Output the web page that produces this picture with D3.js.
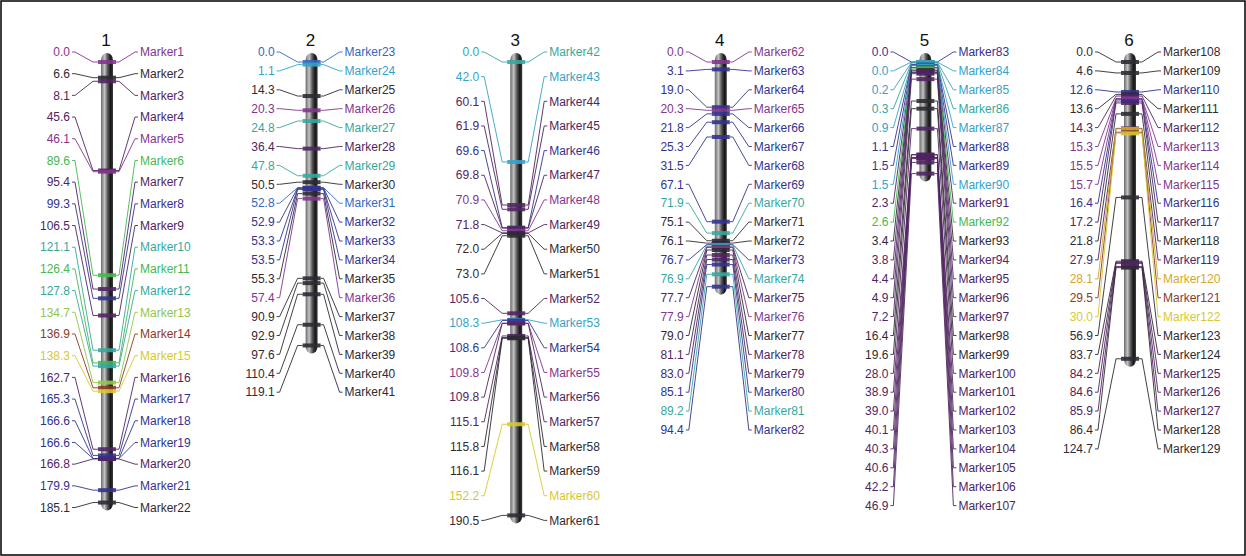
<!DOCTYPE html>
<html>
<head>
<meta charset="utf-8">
<script src="https://cdn.jsdelivr.net/npm/d3@7"></script>
<style>
  body { margin: 0; background: #fff; }
  text { font-family: "Liberation Sans", Arial, sans-serif; }
</style>
</head>
<body>
<div id="chart"></div>
<script>
// ---------- data ----------
const chromNames = ["1", "2", "3", "4", "5", "6"];

// positions (cM) per linkage group
const chr1Pos = [0.0, 6.6, 8.1, 45.6, 46.1, 89.6, 95.4, 99.3, 106.5, 121.1, 126.4, 127.8, 134.7, 136.9, 138.3, 162.7, 165.3, 166.6, 166.6, 166.8, 179.9, 185.1];
const chr2Pos = [0.0, 1.1, 14.3, 20.3, 24.8, 36.4, 47.8, 50.5, 52.8, 52.9, 53.3, 53.5, 55.3, 57.4, 90.9, 92.9, 97.6, 110.4, 119.1];
const chr3Pos = [0.0, 42.0, 60.1, 61.9, 69.6, 69.8, 70.9, 71.8, 72.0, 73.0, 105.6, 108.3, 108.6, 109.8, 109.8, 115.1, 115.8, 116.1, 152.2, 190.5];
const chr4Pos = [0.0, 3.1, 19.0, 20.3, 21.8, 25.3, 31.5, 67.1, 71.9, 75.1, 76.1, 76.7, 76.9, 77.7, 77.9, 79.0, 81.1, 83.0, 85.1, 89.2, 94.4];
const chr5Pos = [0.0, 0.0, 0.2, 0.3, 0.9, 1.1, 1.5, 1.5, 2.3, 2.6, 3.4, 3.8, 4.4, 4.9, 7.2, 16.4, 19.6, 28.0, 38.9, 39.0, 40.1, 40.3, 40.6, 42.2, 46.9];
const chr6Pos = [0.0, 4.6, 12.6, 13.6, 14.3, 15.3, 15.5, 15.7, 16.4, 17.2, 21.8, 27.9, 28.1, 29.5, 30.0, 56.9, 83.7, 84.2, 84.6, 85.9, 86.4, 124.7];

// colour key of each marker
const chr1Col = ["p","k","d","d","p","g","d","n","d","t","g","t","l","r","y","d","n","n","n","d","n","k"];
const chr2Col = ["b","c","k","p","t","d","t","k","b","n","n","n","k","p","k","k","k","k","k"];
const chr3Col = ["t","c","d","d","n","d","p","d","k","k","d","c","n","p","d","d","k","k","y","k"];
const chr4Col = ["p","n","n","p","n","n","n","n","t","k","k","n","t","d","p","k","d","d","n","t","n"];
const chr5Col = ["n","c","c","t","c","n","n","c","d","g","k","d","d","d","d","k","k","d","d","d","d","d","d","d","d"];
const chr6Col = ["k","k","n","k","d","p","p","p","n","d","k","d","o","r","y","k","k","d","d","d","k","k"];

const palette = {
  k: "#2f2a33", d: "#4f2560", p: "#82358e", n: "#33338e", b: "#3566c0",
  c: "#35a2c8", t: "#35a89e", g: "#45b850", l: "#92c64a", y: "#d8c830",
  o: "#d6a62a", r: "#8a3a2a"
};

const allPos = [chr1Pos, chr2Pos, chr3Pos, chr4Pos, chr5Pos, chr6Pos];
const allCol = [chr1Col, chr2Col, chr3Col, chr4Col, chr5Col, chr6Col];

// ---------- setup ----------
const W = 1246, H = 556;
const svg = d3.select("#chart").append("svg")
  .attr("width", W).attr("height", H);

svg.append("rect")
  .attr("x", 1).attr("y", 1).attr("width", W - 2).attr("height", H - 2)
  .attr("fill", "#fff").attr("stroke", "#000").attr("stroke-width", 1.5);

const defs = svg.append("defs");
const grad = defs.append("linearGradient").attr("id", "cyl")
  .attr("x1", "0%").attr("x2", "100%").attr("y1", "0%").attr("y2", "0%");
[[0, "#6a6a6a"], [0.3, "#c4c4c4"], [0.55, "#5a5a5a"], [0.8, "#161616"], [1, "#3c3c3c"]]
  .forEach(s => grad.append("stop").attr("offset", s[0]).attr("stop-color", s[1]));

const yScale = d3.scaleLinear().domain([0, 200]).range([62, 62 + 476]);
const xScale = d3.scalePoint().domain(chromNames).range([107, 1130]);

const halfW = 6;
const labelTop = 52, minStep = 18.9;

let counter = 1;
const groups = chromNames.map((name, gi) => {
  const pos = allPos[gi];
  const markers = pos.map((p, i) => ({
    name: "Marker" + (counter + i),
    pos: p,
    color: palette[allCol[gi][i]]
  }));
  counter += pos.length;
  return { name, markers, max: d3.max(pos) };
});

// ---------- draw ----------
groups.forEach(g => {
  const cx = xScale(g.name);
  const n = g.markers.length;
  const step = Math.max(minStep, (yScale(g.max) + 5 - labelTop) / (n - 1));
  g.markers.forEach((m, i) => { m.ly = labelTop + i * step; m.my = yScale(m.pos); });

  const gg = svg.append("g");

  gg.append("text")
    .attr("x", cx - 1).attr("y", 46)
    .attr("text-anchor", "middle")
    .attr("font-size", 17)
    .attr("fill", "#111")
    .text(g.name);

  // chromosome body
  gg.append("rect")
    .attr("x", cx - halfW)
    .attr("y", yScale(0) - 9)
    .attr("width", halfW * 2)
    .attr("height", yScale(g.max) - yScale(0) + 17)
    .attr("rx", halfW).attr("ry", 7)
    .attr("fill", "url(#cyl)");

  // bands
  gg.selectAll(".band").data(g.markers).enter()
    .append("rect")
    .attr("class", "band")
    .attr("x", cx - halfW - 3)
    .attr("y", d => d.my - 2)
    .attr("width", halfW * 2 + 6)
    .attr("height", 4)
    .attr("fill", d => d.color)
    .attr("opacity", 0.9);

  const line = d3.line();

  // left leader lines
  gg.selectAll(".ll").data(g.markers).enter()
    .append("path")
    .attr("class", "ll")
    .attr("d", d => line([[cx - 35, d.ly], [cx - 32, d.ly], [cx - 14, d.my], [cx - halfW - 3, d.my]]))
    .attr("fill", "none")
    .attr("stroke", d => d.color)
    .attr("stroke-width", 0.9);

  // right leader lines
  gg.selectAll(".rl").data(g.markers).enter()
    .append("path")
    .attr("class", "rl")
    .attr("d", d => line([[cx + halfW + 3, d.my], [cx + 12, d.my], [cx + 28, d.ly], [cx + 31, d.ly]]))
    .attr("fill", "none")
    .attr("stroke", d => d.color)
    .attr("stroke-width", 0.9);

  // position labels
  gg.selectAll(".pl").data(g.markers).enter()
    .append("text")
    .attr("class", "pl")
    .attr("x", cx - 37)
    .attr("y", d => d.ly)
    .attr("dy", "0.35em")
    .attr("text-anchor", "end")
    .attr("font-size", 12)
    .attr("fill", d => d.color)
    .text(d => d.pos.toFixed(1));

  // marker names
  gg.selectAll(".ml").data(g.markers).enter()
    .append("text")
    .attr("class", "ml")
    .attr("x", cx + 33)
    .attr("y", d => d.ly)
    .attr("dy", "0.35em")
    .attr("font-size", 12)
    .attr("fill", d => d.color)
    .text(d => d.name);
});
</script>
</body>
</html>
